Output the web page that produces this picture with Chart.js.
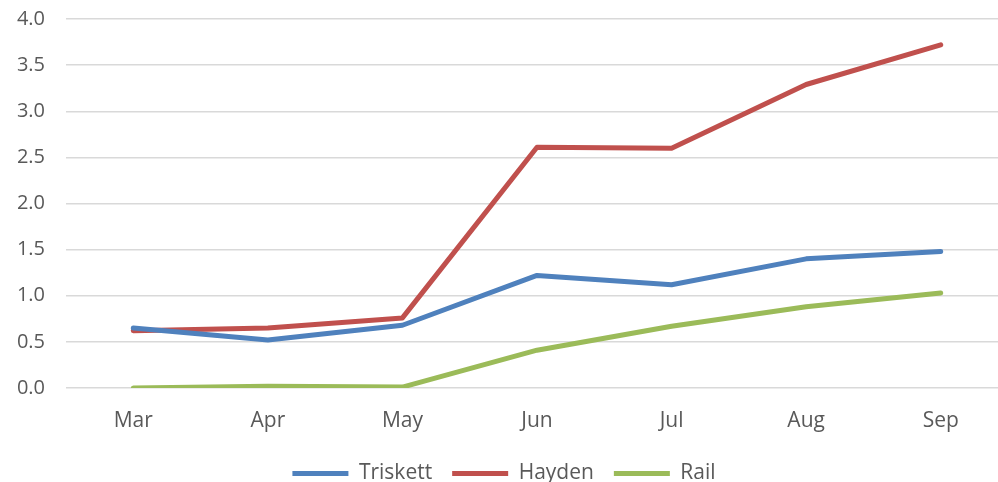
<!DOCTYPE html>
<html><head><meta charset="utf-8">
<script src="https://cdn.jsdelivr.net/npm/chart.js@4"></script>
<style>
html,body{margin:0;padding:0;overflow:hidden;background:#fff;width:998px;height:482px}
#wrap{position:absolute;left:0;top:0;width:1008px;height:482px}
</style></head><body>
<div id="wrap"><canvas id="c" width="1008" height="482"></canvas></div>
<script>
const categories = ["Mar","Apr","May","Jun","Jul","Aug","Sep"];
const triskett = [0.65,0.52,0.68,1.22,1.12,1.40,1.48];
const hayden = [0.62,0.65,0.76,2.61,2.60,3.29,3.72];
const rail = [0.00,0.02,0.01,0.41,0.67,0.88,1.03];
const yTicks = {min:0, max:4, step:0.5};

const fam = "'Open Sans', sans-serif";
function ds(label,data,color){
  return {label,data,borderColor:color,backgroundColor:color,borderWidth:5,
    pointRadius:0,tension:0,borderCapStyle:'round',borderJoinStyle:'round',fill:false};
}
new Chart(document.getElementById('c'),{
  type:'line',
  data:{labels:categories,datasets:[
    ds('Triskett',triskett,'#4F81BD'),
    ds('Hayden',hayden,'#C0504D'),
    ds('Rail',rail,'#9BBB59')
  ]},
  options:{
    responsive:false,animation:false,
    layout:{padding:{top:19,left:0,right:0,bottom:-12}},
    plugins:{
      legend:{position:'bottom',labels:{usePointStyle:true,pointStyle:'line',pointStyleWidth:56,
        color:'#595959',font:{family:fam,size:21},padding:20,boxHeight:18}},
      tooltip:{enabled:false}
    },
    scales:{
      x:{offset:true,grid:{display:false},border:{display:false},
        ticks:{color:'#595959',font:{family:fam,size:21},padding:12},
        afterFit(s){s.height=55;s.paddingLeft=0;s.paddingRight=0;}},
      y:{min:yTicks.min,max:yTicks.max,
        grid:{color:'#d9d9d9',lineWidth:1.5,drawTicks:false},border:{display:false},
        ticks:{stepSize:yTicks.step,color:'#595959',font:{family:fam,size:20},padding:21,
          callback:v=>Number(v).toFixed(1)},
        afterFit(s){s.width=66;s.paddingTop=0;s.paddingBottom=0;}}
    }
  }
});
</script></body></html>
